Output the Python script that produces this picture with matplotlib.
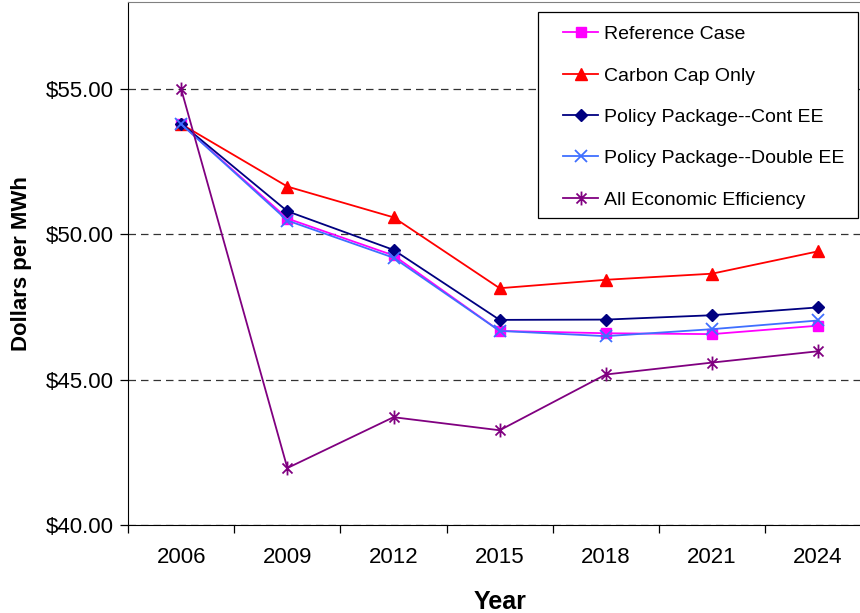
import numpy as np
import matplotlib
matplotlib.use("Agg")
import matplotlib.pyplot as plt
from matplotlib.path import Path
from matplotlib.patches import Rectangle
from matplotlib.ticker import FuncFormatter, FixedLocator

plt.rcParams['font.family'] = ['Liberation Sans', 'DejaVu Sans']

years = ['2006', '2009', '2012', '2015', '2018', '2021', '2024']

reference_case = [53.80, 50.55, 49.28, 46.68, 46.60, 46.57, 46.86]
carbon_cap_only = [53.80, 51.65, 50.59, 48.15, 48.44, 48.65, 49.42]
policy_cont_ee = [53.82, 50.80, 49.47, 47.06, 47.07, 47.22, 47.49]
policy_double_ee = [53.80, 50.48, 49.20, 46.68, 46.50, 46.74, 47.04]
all_econ_eff = [55.00, 41.96, 43.71, 43.26, 45.18, 45.59, 45.98]

# asterisk marker: vertical stroke plus an x
star = Path([(0, -1), (0, 1), (-0.72, -0.72), (0.72, 0.72), (-0.72, 0.72), (0.72, -0.72)],
            [Path.MOVETO, Path.LINETO, Path.MOVETO, Path.LINETO, Path.MOVETO, Path.LINETO])

fig = plt.figure(figsize=(8.6, 6.13), dpi=100)
ax = fig.add_axes([0.149, 0.1436, 0.864, 0.853])

x = np.arange(len(years))
lw = 1.3
ax.plot(x, reference_case, color='#FF00FF', lw=lw, marker='s', ms=7, label='Reference Case')
ax.plot(x, carbon_cap_only, color='#FF0000', lw=lw, marker='^', ms=8, label='Carbon Cap Only')
ax.plot(x, policy_cont_ee, color='#000080', lw=lw, marker='D', ms=6, label='Policy Package--Cont EE')
ax.plot(x, policy_double_ee, color='#3F6FFF', lw=lw, marker='x', ms=9, mew=1.3,
        label='Policy Package--Double EE')
ax.plot(x, all_econ_eff, color='#800080', lw=lw, marker=star, ms=10, mew=1.3,
        label='All Economic Efficiency')

ax.set_xlim(-0.5, len(years) - 0.5)
ax.set_ylim(40, 58)
ax.set_yticks([40, 45, 50, 55])
ax.yaxis.set_major_formatter(FuncFormatter(lambda v, p: '${:.2f}'.format(v)))
ax.grid(axis='y', color='#333333', linestyle=(0, (6, 4)), lw=0.9)

# category labels centred, tick marks on the boundaries
ax.set_xticks(x)
ax.set_xticklabels(years)
ax.xaxis.set_minor_locator(FixedLocator(np.arange(-0.5, len(years), 1.0)))
ax.tick_params(axis='x', which='major', length=0, pad=16, labelsize=16)
ax.tick_params(axis='x', which='minor', length=6, width=0.9, direction='out')
ax.tick_params(axis='y', length=6, width=0.9, direction='out', labelsize=16, pad=4)

for side in ['top', 'right']:
    ax.spines[side].set_color('#808080')
for side in ['left', 'bottom']:
    ax.spines[side].set_color('black')

ax.set_ylabel('Dollars per MWh', fontsize=16, fontweight='bold', labelpad=10)
ax.set_xlabel('Year', fontsize=18, fontweight='bold', labelpad=16)

# legend box drawn separately so the padding can differ per side
ax.add_patch(Rectangle((0.552, 0.587), 0.4305, 0.394, transform=ax.transAxes,
                       facecolor='white', edgecolor='black', lw=0.9, zorder=4))
leg = ax.legend(loc='upper left', bbox_to_anchor=(0.5855, 0.955), fontsize=14,
                frameon=False, borderpad=0, labelspacing=1.22, handlelength=1.8,
                handletextpad=0.3, borderaxespad=0)
leg.set_zorder(5)

fig.savefig('out.png', dpi=100)
